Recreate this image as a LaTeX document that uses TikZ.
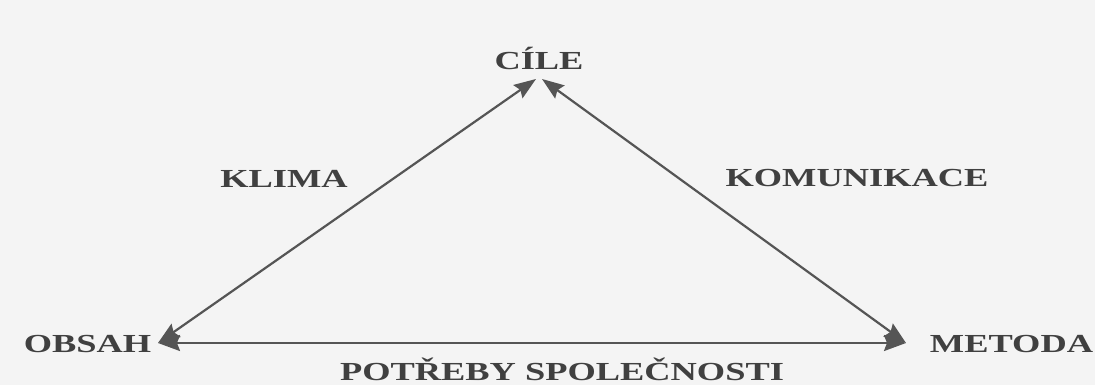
\documentclass[tikz,border=0pt]{standalone}
\usepackage{fontspec}
\newfontfamily\lblfont[FakeStretch=1.4]{Liberation Serif}
\usetikzlibrary{arrows.meta}
\definecolor{ink}{HTML}{404040}
\definecolor{lineink}{HTML}{555555}
\definecolor{paper}{HTML}{F4F4F4}
\tikzset{
  lbl/.style={inner sep=0pt, anchor=base, text=ink, font=\lblfont\bfseries\fontsize{26}{30}\selectfont},
  conn/.style={draw=lineink, line width=2.2pt,
    {Stealth[length=22pt,width=16pt,inset=3pt,fill=lineink]}-{Stealth[length=22pt,width=16pt,inset=3pt,fill=lineink]}}
}
\begin{document}
\begin{tikzpicture}[x=1pt,y=-1pt]
\fill[paper] (0,0) rectangle (1095,385);
\useasboundingbox (0,0) rectangle (1095,385);
% labels
\node[lbl] (cile) at (539,70) {CÍLE};
\node[lbl] (obsah) at (87.5,352) {OBSAH};
\node[lbl] (metoda) at (1011.5,352) {METODA};
\node[lbl] (klima) at (284,187) {KLIMA};
\node[lbl] (komunikace) at (857,186) {KOMUNIKACE};
\node[lbl] (potreby) at (562,380) {POTŘEBY SPOLEČNOSTI};
% arrow tip points
\coordinate (cileL) at (536,79);
\coordinate (cileR) at (542,79);
\coordinate (obsahT) at (158,343);
\coordinate (metodaT) at (906,343);
% connectors
\draw[conn] (cileL) -- (obsahT);
\draw[conn] (cileR) -- (metodaT);
\draw[conn] (obsahT) -- (metodaT);
\end{tikzpicture}
\end{document}
